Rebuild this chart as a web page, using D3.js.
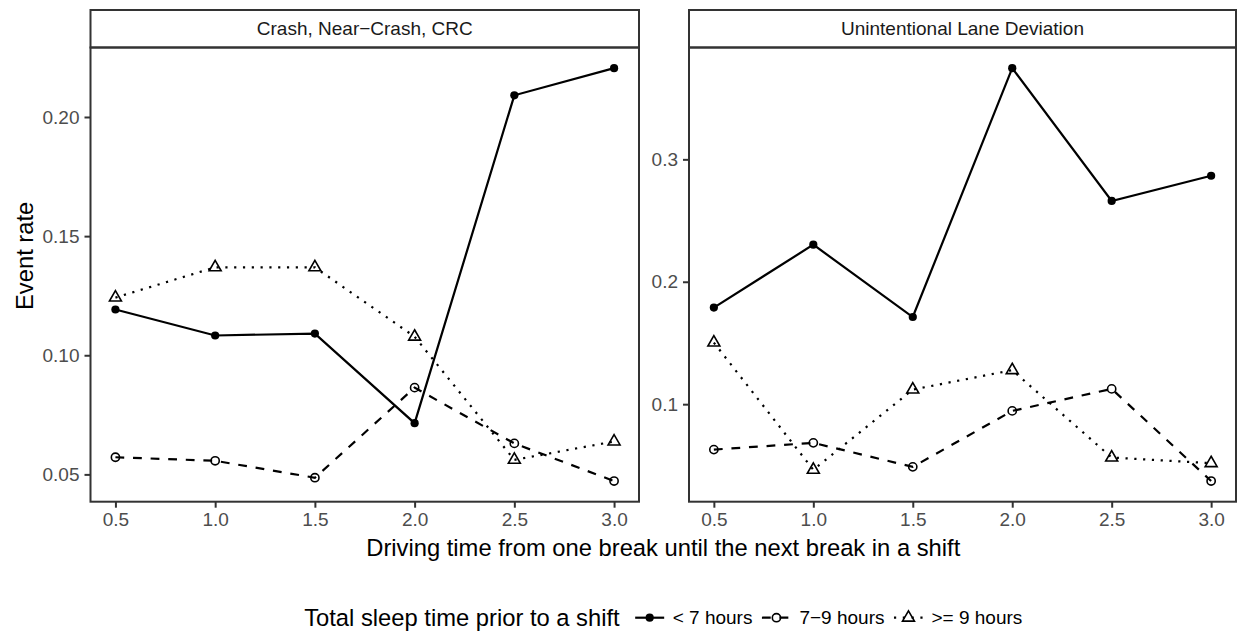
<!DOCTYPE html>
<html>
<head>
<meta charset="utf-8">
<script src="https://cdn.jsdelivr.net/npm/d3@7"></script>
<style>
  html, body { margin: 0; padding: 0; background: #fff; }
  svg { display: block; font-family: "Liberation Sans", Arial, Helvetica, sans-serif; }
</style>
</head>
<body>
<svg id="chart" width="1238" height="632"></svg>
<script>
// Driving time bins (hours between breaks)
const hours = [0.5, 1.0, 1.5, 2.0, 2.5, 3.0];
const xTicks = [0.5, 1.0, 1.5, 2.0, 2.5, 3.0];

// Sleep groups
const groups = ["< 7 hours", "7\u22129 hours", ">= 9 hours"];

// Crash, Near-Crash, CRC event rates
const crashLt7  = [0.1192, 0.1083, 0.1091, 0.0715, 0.2091, 0.2205];
const crash7to9 = [0.0572, 0.0557, 0.0486, 0.0864, 0.0630, 0.0472];
const crashGe9  = [0.1242, 0.1369, 0.1369, 0.1078, 0.0561, 0.0638];

// Unintentional Lane Deviation event rates
const laneLt7  = [0.1789, 0.2303, 0.1712, 0.3745, 0.2660, 0.2866];
const lane7to9 = [0.0629, 0.0684, 0.0488, 0.0945, 0.1125, 0.0372];
const laneGe9  = [0.1503, 0.0464, 0.1119, 0.1278, 0.0564, 0.0518];

const facetTitles = ["Crash, Near\u2212Crash, CRC", "Unintentional Lane Deviation"];
const crashTicks = [0.05, 0.10, 0.15, 0.20];
const laneTicks  = [0.1, 0.2, 0.3];

const facets = [
  { title: facetTitles[0], series: [crashLt7, crash7to9, crashGe9], ticks: crashTicks, fmt: d3.format(".2f"), x0: 90.5, x1: 639 },
  { title: facetTitles[1], series: [laneLt7, lane7to9, laneGe9],   ticks: laneTicks,  fmt: d3.format(".1f"), x0: 689, x1: 1236 }
];

// Layout
const stripTop = 10, panelTop = 47.5, panelBottom = 501.7;
const smallFont = 19, bigFont = 23.75;
const borderCol = "#333333";
const lineW = 2.2;
const dashStyles = [null, "8.8,8.8", "2.2,6.6"];

const svg = d3.select("#chart");

// ggplot-style 5% expansion
function expand(ext) {
  const pad = (ext[1] - ext[0]) * 0.05;
  return [ext[0] - pad, ext[1] + pad];
}

function drawPoint(g, kind, x, y) {
  if (kind === 0) {
    g.append("circle").attr("cx", x).attr("cy", y).attr("r", 4.1).attr("fill", "#000");
  } else if (kind === 1) {
    g.append("circle").attr("cx", x).attr("cy", y).attr("r", 4.1)
      .attr("fill", "none").attr("stroke", "#000").attr("stroke-width", 1.6);
  } else {
    g.append("path").attr("d", d3.symbol(d3.symbolTriangle, 62)())
      .attr("transform", `translate(${x},${y})`)
      .attr("fill", "none").attr("stroke", "#000").attr("stroke-width", 1.6);
  }
}

facets.forEach(f => {
  const x = d3.scaleLinear().domain(expand(d3.extent(hours))).range([f.x0, f.x1]);
  const allVals = f.series.flat();
  const y = d3.scaleLinear().domain(expand(d3.extent(allVals))).range([panelBottom, panelTop]);

  // strip
  svg.append("rect").attr("x", f.x0).attr("y", stripTop)
    .attr("width", f.x1 - f.x0).attr("height", panelTop - stripTop)
    .attr("fill", "#fff").attr("stroke", borderCol).attr("stroke-width", 2);
  svg.append("text").attr("x", (f.x0 + f.x1) / 2).attr("y", (stripTop + panelTop) / 2)
    .attr("text-anchor", "middle").attr("dominant-baseline", "central")
    .attr("font-size", smallFont).attr("fill", "#1A1A1A").text(f.title);

  // axes
  const xAxis = d3.axisBottom(x).tickValues(xTicks).tickFormat(d3.format(".1f")).tickSizeOuter(0).tickSize(6).tickPadding(5);
  const gx = svg.append("g").attr("transform", `translate(0,${panelBottom})`).call(xAxis);
  const yAxis = d3.axisLeft(y).tickValues(f.ticks).tickFormat(f.fmt).tickSizeOuter(0).tickSize(6).tickPadding(5);
  const gy = svg.append("g").attr("transform", `translate(${f.x0},0)`).call(yAxis);
  [gx, gy].forEach(g => {
    g.select(".domain").remove();
    g.selectAll(".tick line").attr("stroke", borderCol).attr("stroke-width", 2);
    g.selectAll(".tick text").attr("font-size", smallFont).attr("fill", "#4D4D4D")
      .attr("font-family", "Liberation Sans, Arial, Helvetica, sans-serif");
  });

  // lines
  const line = d3.line().x((d, i) => x(hours[i])).y(d => y(d));
  f.series.forEach((vals, k) => {
    const p = svg.append("path").datum(vals).attr("d", line)
      .attr("fill", "none").attr("stroke", "#000").attr("stroke-width", lineW);
    if (dashStyles[k]) p.attr("stroke-dasharray", dashStyles[k]);
  });
  // points
  const pg = svg.append("g");
  f.series.forEach((vals, k) => {
    vals.forEach((v, i) => drawPoint(pg, k, x(hours[i]), y(v)));
  });

  // panel border
  svg.append("rect").attr("x", f.x0).attr("y", panelTop)
    .attr("width", f.x1 - f.x0).attr("height", panelBottom - panelTop)
    .attr("fill", "none").attr("stroke", borderCol).attr("stroke-width", 2);
});

// axis titles
svg.append("text").attr("x", (facets[0].x0 + facets[1].x1) / 2).attr("y", 556)
  .attr("text-anchor", "middle").attr("font-size", bigFont).attr("fill", "#000")
  .text("Driving time from one break until the next break in a shift");
svg.append("text").attr("transform", `translate(33,${(stripTop + panelBottom) / 2}) rotate(-90)`)
  .attr("text-anchor", "middle").attr("font-size", bigFont).attr("fill", "#000")
  .text("Event rate");

// legend
const legY = 617.7;
const leg = svg.append("g");
const title = leg.append("text").attr("x", 0).attr("y", legY).attr("dominant-baseline", "central")
  .attr("font-size", bigFont).attr("fill", "#000").text("Total sleep time prior to a shift");
let cx = title.node().getComputedTextLength() + 15.5;
const keyW = 29;
groups.forEach((name, k) => {
  const l = leg.append("line").attr("x1", cx).attr("x2", cx + keyW).attr("y1", legY).attr("y2", legY)
    .attr("stroke", "#000").attr("stroke-width", lineW);
  if (dashStyles[k]) l.attr("stroke-dasharray", dashStyles[k]);
  drawPoint(leg, k, cx + keyW / 2, legY);
  cx += keyW + 8.5;
  const t = leg.append("text").attr("x", cx).attr("y", legY).attr("dominant-baseline", "central")
    .attr("font-size", smallFont).attr("fill", "#000").text(name);
  cx += t.node().getComputedTextLength();
  if (k < groups.length - 1) cx += 9.5;
});
const legCenter = (facets[0].x0 + facets[1].x1) / 2;
leg.attr("transform", `translate(${legCenter - cx / 2},0)`);
</script>
</body>
</html>
